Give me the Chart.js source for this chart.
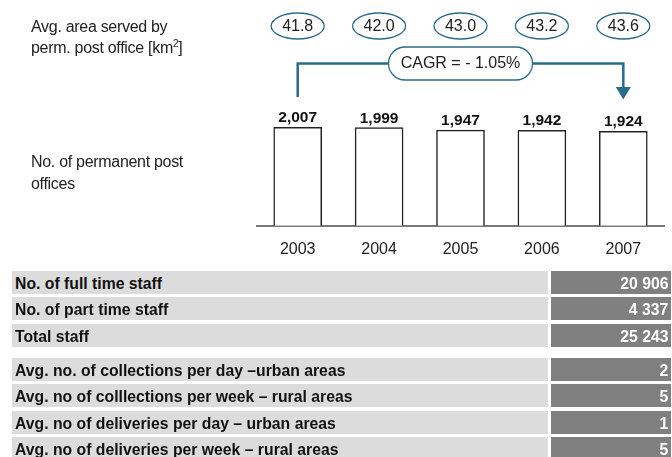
<!DOCTYPE html>
<html>
<head>
<meta charset="utf-8">
<script src="https://cdn.jsdelivr.net/npm/chart.js@4.4.1/dist/chart.umd.min.js"></script>
<style>
  html,body{margin:0;padding:0;background:#fff;}
  body{width:672px;height:457px;overflow:hidden;position:relative;font-family:"Liberation Sans",Arial,sans-serif;color:#222;}
  #chartBox{position:absolute;left:0;top:0;width:672px;height:280px;}
  .side{position:absolute;left:31px;font-size:16px;line-height:21px;letter-spacing:-0.3px;color:#222;}
  .side sup{font-size:10px;vertical-align:6px;line-height:0;}
  .row{position:absolute;left:12px;width:659px;height:23px;}
  .row .lab{position:absolute;left:0;top:0;width:536px;height:100%;background:#dcdcdc;overflow:hidden;}
  .row .val{position:absolute;left:539px;top:0;width:120px;height:100%;background:#808080;}
  .row span{position:absolute;top:0;font-family:"Liberation Sans",Arial,sans-serif;font-weight:bold;font-size:16.5px;
    line-height:24px;white-space:nowrap;}
  .row .lab span{left:3px;color:#111;transform:scaleX(0.955);transform-origin:left center;}
  .row .val span{right:3px;color:#fff;transform:scaleX(0.955);transform-origin:right center;}
</style>
</head>
<body>
<div id="chartBox"><canvas id="c" width="672" height="280"></canvas></div>
<div class="side" style="top:16px;">Avg. area served by<br>perm. post office [km<sup>2</sup>]</div>
<div class="side" style="top:151px;line-height:22px;">No. of permanent post<br>offices</div>
<div id="table"></div>
<script>
// ---- data ----
const years = ['2003', '2004', '2005', '2006', '2007'];
const postOffices = [2007, 1999, 1947, 1942, 1924];
const avgArea = [41.8, 42.0, 43.0, 43.2, 43.6];
const cagrText = 'CAGR = - 1.05%';
const staffLabels = ['No. of full time staff', 'No. of part time staff', 'Total staff'];
const staffValues = ['20 906', '4 337', '25 243'];
const serviceLabels = ['Avg. no. of collections per day \u2013urban areas', 'Avg. no of colllections per week \u2013 rural areas', 'Avg. no of deliveries per day \u2013 urban areas', 'Avg. no of deliveries per week \u2013 rural areas'];
const serviceValues = ['2', '5', '1', '5'];

// ---- table ----
const table = document.getElementById('table');
function addGroup(labels, values, startTop) {
  labels.forEach((l, i) => {
    const r = document.createElement('div');
    r.className = 'row';
    r.style.top = (startTop + i * 26.4) + 'px';
    const a = document.createElement('div'); a.className = 'lab';
    const as = document.createElement('span'); as.textContent = l; a.appendChild(as);
    const b = document.createElement('div'); b.className = 'val';
    const bs = document.createElement('span'); bs.textContent = values[i]; b.appendChild(bs);
    r.appendChild(a); r.appendChild(b); table.appendChild(r);
  });
}
addGroup(staffLabels, staffValues, 271);
addGroup(serviceLabels, serviceValues, 358);

// ---- chart ----
const TEAL = '#2a6b8a';
const FONT = '"Liberation Sans", Arial, sans-serif';

const overlay = {
  id: 'overlay',
  afterDatasetsDraw(chart) {
    const ctx = chart.ctx;
    const meta = chart.getDatasetMeta(0);
    const xs = chart.scales.x;
    ctx.save();
    // value labels
    ctx.fillStyle = '#111';
    ctx.font = 'bold 15.5px ' + FONT;
    ctx.textAlign = 'center';
    ctx.textBaseline = 'alphabetic';
    meta.data.forEach((bar, i) => {
      ctx.fillText(postOffices[i].toLocaleString('en-US'), bar.x, bar.y - 5);
    });
    // ellipses
    ctx.font = '16px ' + FONT;
    ctx.textBaseline = 'middle';
    avgArea.forEach((v, i) => {
      const x = xs.getPixelForValue(i);
      const y = 26;
      ctx.beginPath();
      ctx.ellipse(x, y, 26.5, 13, 0, 0, Math.PI * 2);
      ctx.fillStyle = '#fff';
      ctx.fill();
      ctx.lineWidth = 1.3;
      ctx.strokeStyle = TEAL;
      ctx.stroke();
      ctx.fillStyle = '#222';
      ctx.fillText(v.toFixed(1), x, y + 0.5);
    });
    // CAGR connector
    const x0 = meta.data[0].x;
    const x1 = meta.data[meta.data.length - 1].x;
    const xm = xs.getPixelForValue(2);
    const yl = 63.5;
    ctx.strokeStyle = TEAL;
    ctx.lineWidth = 2.5;
    ctx.beginPath();
    ctx.moveTo(x0, 97);
    ctx.lineTo(x0, yl);
    ctx.lineTo(x1, yl);
    ctx.lineTo(x1, 88);
    ctx.stroke();
    ctx.fillStyle = TEAL;
    ctx.beginPath();
    ctx.moveTo(x1 - 7.5, 87);
    ctx.lineTo(x1 + 7.5, 87);
    ctx.lineTo(x1, 99.5);
    ctx.closePath();
    ctx.fill();
    // pill
    const pw = 144, ph = 33;
    const px = xm - pw / 2, py = yl - ph / 2;
    ctx.beginPath();
    ctx.roundRect(px, py, pw, ph, ph / 2);
    ctx.fillStyle = '#fff';
    ctx.fill();
    ctx.lineWidth = 1.3;
    ctx.strokeStyle = TEAL;
    ctx.stroke();
    ctx.fillStyle = '#222';
    ctx.font = '16px ' + FONT;
    ctx.fillText(cagrText, xm, yl + 0.5);
    ctx.restore();
  }
};

new Chart(document.getElementById('c'), {
  type: 'bar',
  data: {
    labels: years,
    datasets: [{
      data: postOffices,
      backgroundColor: '#fff',
      borderColor: '#222',
      borderWidth: 1.5,
      barThickness: 48
    }]
  },
  options: {
    responsive: false,
    animation: false,
    devicePixelRatio: 1,
    layout: { padding: { left: 257, right: 8, top: 103, bottom: 7 } },
    plugins: { legend: { display: false }, tooltip: { enabled: false } },
    scales: {
      x: {
        grid: { display: false, drawTicks: false },
        border: { display: true, color: '#777', width: 2 },
        ticks: { color: '#222', font: { size: 16, family: FONT }, padding: 14 }
      },
      y: { display: false, min: 0, max: 2500 }
    }
  },
  plugins: [overlay]
});
</script>
</body>
</html>
